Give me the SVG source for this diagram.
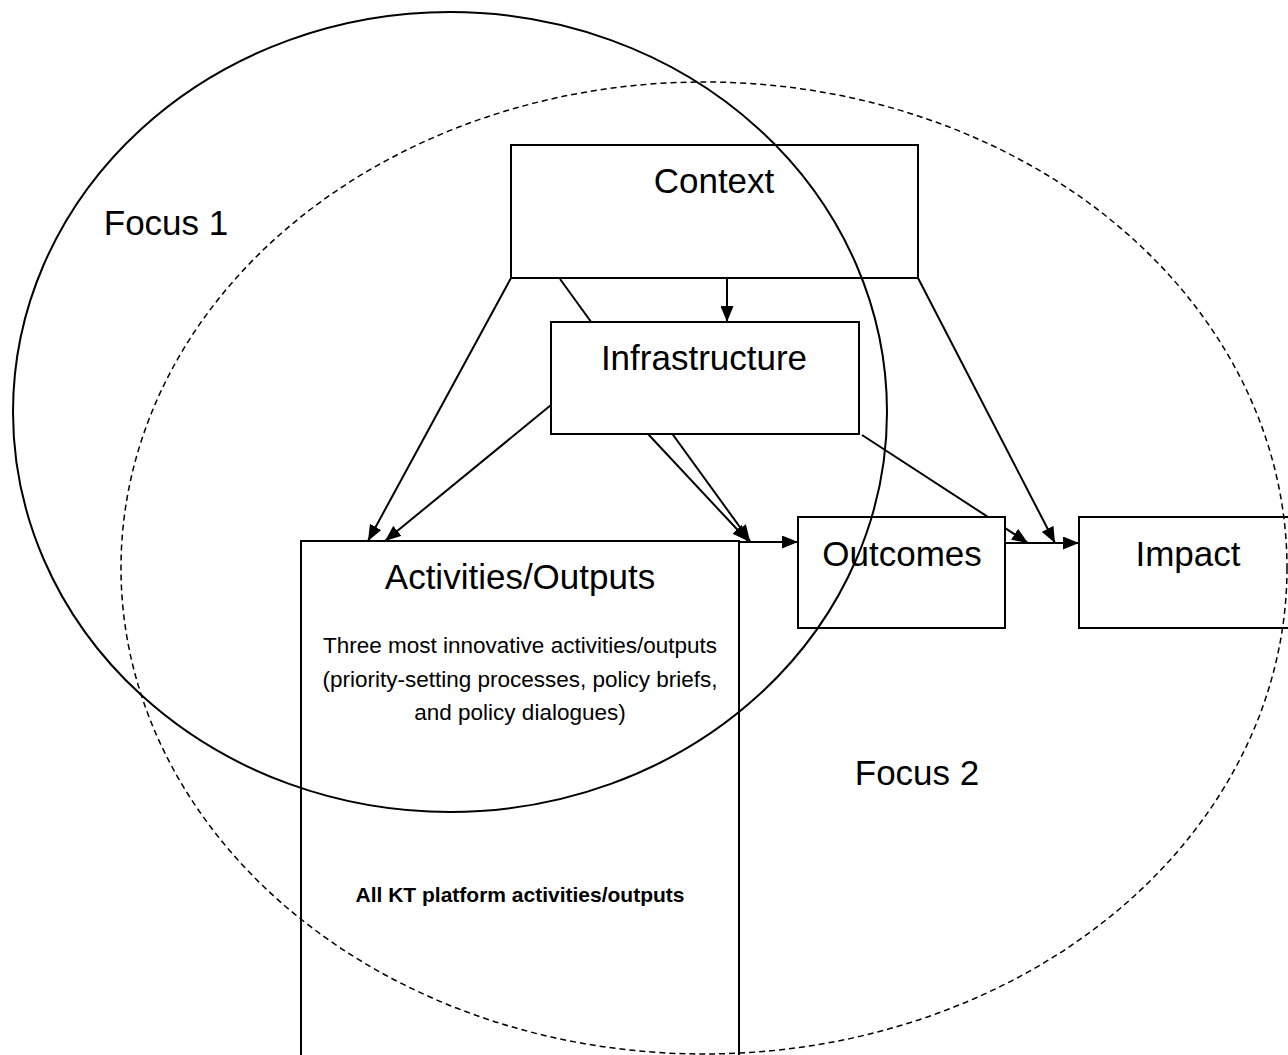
<svg xmlns="http://www.w3.org/2000/svg" width="1288" height="1055" viewBox="0 0 1288 1055">
<style>
.box{fill:#fff;stroke:#000;stroke-width:2}
.lbl{font-family:"Liberation Sans",Arial,sans-serif;font-size:35px;fill:#000;text-anchor:middle}
.small{font-family:"Liberation Sans",Arial,sans-serif;font-size:22.5px;fill:#000;text-anchor:middle}
.bold{font-family:"Liberation Sans",Arial,sans-serif;font-size:21px;font-weight:bold;fill:#000;text-anchor:middle}
.conn line{stroke:#000;stroke-width:2}
.arr{marker-end:url(#ah)}
</style>
<defs>
<marker id="ah" viewBox="0 0 16 13" refX="16" refY="6.5" markerWidth="16" markerHeight="13" markerUnits="userSpaceOnUse" orient="auto">
<path d="M0,0 L16,6.5 L0,13 Z" fill="#000"/>
</marker>
</defs>
<rect width="1288" height="1055" fill="#fff"/>
<g id="connectors" class="conn">
<line class="arr" x1="727" y1="278" x2="727" y2="322"/>
<line class="arr" x1="511" y1="278" x2="368" y2="541"/>
<line class="arr" x1="551" y1="405" x2="385" y2="541"/>
<line class="arr" x1="560" y1="279" x2="750" y2="541"/>
<line class="arr" x1="648" y1="434" x2="748" y2="541"/>
<line class="arr" x1="739" y1="542" x2="798" y2="542"/>
<line class="arr" x1="862" y1="435" x2="1028" y2="543"/>
<line class="arr" x1="918" y1="278" x2="1055" y2="543"/>
<line class="arr" x1="1005" y1="543" x2="1079" y2="543"/>
</g>
<g id="context">
<rect class="box" x="511" y="145" width="407" height="133"/>
<text class="lbl" x="714" y="193">Context</text>
</g>
<g id="infrastructure">
<rect class="box" x="551" y="322" width="308" height="112"/>
<text class="lbl" x="704" y="370">Infrastructure</text>
</g>
<g id="activities">
<rect class="box" x="301" y="541" width="438" height="520"/>
<text class="lbl" x="520" y="589">Activities/Outputs</text>
<text class="small" x="520" y="653">Three most innovative activities/outputs</text>
<text class="small" x="520" y="687">(priority-setting processes, policy briefs,</text>
<text class="small" x="520" y="720">and policy dialogues)</text>
<text class="bold" x="520" y="902">All KT platform activities/outputs</text>
</g>
<g id="outcomes">
<rect class="box" x="798" y="517" width="207" height="111"/>
<text class="lbl" x="902" y="566">Outcomes</text>
</g>
<g id="impact">
<rect class="box" x="1079" y="517" width="215" height="111"/>
<text class="lbl" x="1188" y="566">Impact</text>
</g>
<g id="focus1">
<ellipse cx="450" cy="412" rx="437" ry="400" fill="none" stroke="#000" stroke-width="2"/>
<text class="lbl" x="166" y="235">Focus 1</text>
</g>
<g id="focus2">
<ellipse cx="704" cy="568" rx="583" ry="486" fill="none" stroke="#000" stroke-width="1.5" stroke-dasharray="6,4"/>
<text class="lbl" x="917" y="785">Focus 2</text>
</g>
</svg>
